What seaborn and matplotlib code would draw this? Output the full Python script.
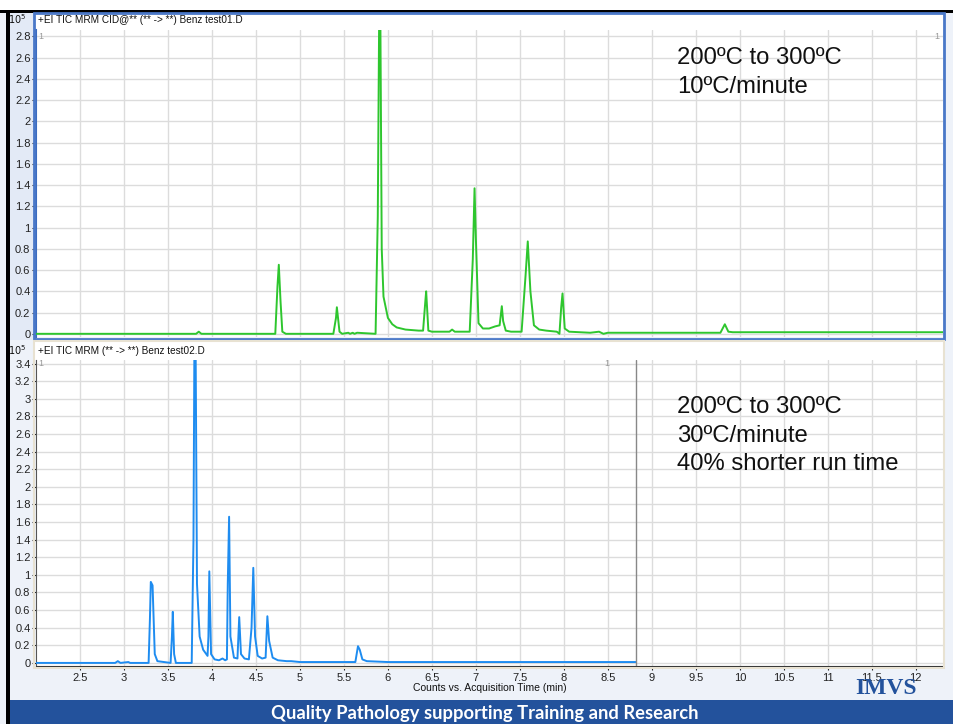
import numpy as np
import pandas as pd
import matplotlib
matplotlib.use("Agg")
import matplotlib.pyplot as plt
import seaborn as sns
from matplotlib.patches import Rectangle

# ---------------- data ----------------
# Run 1: 10 C/min (green) -- trace vertices (time min, counts x1e5)
t1 = [2.00, 3.82, 3.85, 3.88, 4.72, 4.745, 4.76, 4.78, 4.80, 4.84,
      5.38, 5.41, 5.42, 5.45, 5.48, 5.55, 5.57, 5.60, 5.62, 5.65,
      5.86, 5.885, 5.90, 5.915, 5.93, 5.95, 6.00, 6.05, 6.10, 6.20, 6.35,
      6.40, 6.425, 6.435, 6.46, 6.50, 6.70, 6.73, 6.76,
      6.93, 6.965, 6.985, 7.00, 7.03, 7.08, 7.15, 7.22, 7.27, 7.295, 7.31, 7.34, 7.40,
      7.52, 7.565, 7.59, 7.62, 7.66, 7.72, 7.80, 7.92,
      7.95, 7.97, 7.985, 8.01, 8.06, 8.30, 8.40, 8.45, 8.50,
      9.78, 9.83, 9.87, 9.92, 12.31]
y1 = [0.00, 0.00, 0.02, 0.00, 0.00, 0.45, 0.65, 0.30, 0.02, 0.00,
      0.00, 0.15, 0.25, 0.02, 0.00, 0.01, 0.00, 0.01, 0.00, 0.01,
      0.00, 1.10, 2.90, 2.90, 0.80, 0.35, 0.15, 0.09, 0.06, 0.04, 0.03,
      0.03, 0.30, 0.40, 0.03, 0.02, 0.02, 0.04, 0.02,
      0.02, 0.70, 1.37, 0.90, 0.10, 0.05, 0.05, 0.07, 0.08, 0.26, 0.12, 0.03, 0.02,
      0.02, 0.55, 0.87, 0.40, 0.08, 0.04, 0.03, 0.02,
      0.00, 0.25, 0.38, 0.05, 0.02, 0.01, 0.02, 0.00, 0.01,
      0.01, 0.09, 0.02, 0.015, 0.015]

# Run 2: 30 C/min (blue)
t2 = [2.00, 2.90, 2.93, 2.96, 3.05, 3.07, 3.28, 3.295, 3.305, 3.325, 3.35, 3.38,
      3.53, 3.545, 3.555, 3.57, 3.59,
      3.77, 3.79, 3.80, 3.815, 3.83, 3.86, 3.90, 3.95,
      3.96, 3.97, 3.99, 4.03, 4.08, 4.12, 4.15, 4.17,
      4.18, 4.195, 4.21, 4.25, 4.29, 4.31, 4.33, 4.37, 4.42,
      4.45, 4.47, 4.49, 4.52, 4.57, 4.61, 4.63, 4.65, 4.69, 4.75, 4.85, 4.90, 5.00,
      5.63, 5.66, 5.68, 5.71, 5.76, 6.00, 8.82]
y2 = [0.00, 0.00, 0.02, 0.00, 0.01, 0.00, 0.00, 0.50, 0.92, 0.88, 0.10, 0.02,
      0.00, 0.30, 0.58, 0.10, 0.00,
      0.00, 1.40, 3.50, 3.50, 0.90, 0.30, 0.15, 0.08,
      0.30, 1.04, 0.10, 0.04, 0.03, 0.05, 0.03, 0.04,
      0.90, 1.66, 0.30, 0.06, 0.05, 0.52, 0.10, 0.05, 0.04,
      0.40, 1.08, 0.30, 0.08, 0.05, 0.06, 0.53, 0.25, 0.06, 0.03, 0.02, 0.02, 0.01,
      0.01, 0.19, 0.15, 0.04, 0.02, 0.01, 0.01]
run2_end = 8.82

title1 = "+EI TIC MRM CID@** (** -> **) Benz test01.D"
title2 = "+EI TIC MRM (** -> **) Benz test02.D"
note1 = ["200ºC to 300ºC", "10ºC/minute"]
note2 = ["200ºC to 300ºC", "30ºC/minute", "40% shorter run time"]
xlabel = "Counts vs. Acquisition Time (min)"
footer = "Quality Pathology supporting Training and Research"
xticks = [2.5, 3, 3.5, 4, 4.5, 5, 5.5, 6, 6.5, 7, 7.5, 8, 8.5, 9, 9.5,
          10, 10.5, 11, 11.5, 12]
yticks1 = [0, 0.2, 0.4, 0.6, 0.8, 1, 1.2, 1.4, 1.6, 1.8, 2, 2.2, 2.4, 2.6, 2.8]
yticks2 = [0, 0.2, 0.4, 0.6, 0.8, 1, 1.2, 1.4, 1.6, 1.8, 2, 2.2, 2.4, 2.6, 2.8,
           3, 3.2, 3.4]

df1 = pd.DataFrame({"t": t1, "y": y1})
df2 = pd.DataFrame({"t": t2, "y": y2})

# ---------------- figure ----------------
sns.set_theme(style="white")
plt.rcParams["font.family"] = ["Liberation Sans", "DejaVu Sans"]

W, H = 954, 724
fig = plt.figure(figsize=(W / 100, H / 100), dpi=100, facecolor="#eef2f9")

def fx(px):
    return px / W

def fy(py):
    return 1 - py / H

def frect(x0, y0, x1, y1, **kw):
    fig.patches.append(Rectangle((fx(x0), fy(y1)), fx(x1) - fx(x0), fy(y0) - fy(y1),
                                 transform=fig.transFigure, figure=fig, **kw))

# backgrounds (behind axes)
frect(0, 0, W, 10, facecolor="white", edgecolor="none", zorder=-2)
frect(0, 10, W, 13, facecolor="black", edgecolor="none", zorder=-2)
frect(6, 10, 10, H, facecolor="black", edgecolor="none", zorder=-2)
frect(10, 13, 34, 340, facecolor="#e3eaf6", edgecolor="none", zorder=-2)
frect(34, 13, 944, 30, facecolor="white", edgecolor="none", zorder=-2)
frect(34, 341, 944, 360, facecolor="white", edgecolor="none", zorder=-2)
frect(10, 700, W, H, facecolor="#23529c", edgecolor="none", zorder=-2)
# panel frames (on top)
frect(34, 13, 944, 339, facecolor="none", edgecolor="#4a78c8", lw=2.0, zorder=5)
frect(34, 341, 944, 668, facecolor="none", edgecolor="#e8e2d2", lw=1.5, zorder=5)

ax1 = fig.add_axes([fx(36), fy(337), fx(943) - fx(36), fy(30) - fy(337)])
ax2 = fig.add_axes([fx(36), fy(666), fx(943) - fx(36), fy(360) - fy(666)])

for ax, df, col, yt, ylim in [
        (ax1, df1, "#2ec62e", yticks1, (-0.03, 2.86)),
        (ax2, df2, "#1e8cf0", yticks2, (-0.035, 3.44))]:
    ax.set_facecolor("white")
    sns.lineplot(data=df, x="t", y="y", ax=ax, color=col, lw=1.4,
                 estimator=None, sort=False, zorder=3)
    ax.set_xlim(2.0, 12.31)
    ax.set_ylim(*ylim)
    ax.set_xticks(xticks)
    ax.set_yticks(yt)
    ax.set_yticklabels([f"{v:g}" for v in yt], fontsize=8, color="#222222")
    ax.grid(True, color="#dcdcdc", lw=1.0, zorder=0)
    ax.tick_params(axis="y", direction="out", length=3, width=0.8, pad=1,
                   left=True, colors="#222222")
    ax.set_xlabel("")
    ax.set_ylabel("")
    for s in ["top", "right", "bottom"]:
        ax.spines[s].set_visible(False)
    ax.spines["left"].set_color("#555555")
    ax.spines["left"].set_linewidth(0.8)

ax1.tick_params(axis="x", bottom=False, labelbottom=False)
ax1.spines["left"].set_color("#3c6cc0")
ax1.spines["left"].set_linewidth(1.5)

ax2.axvline(run2_end, color="#888888", lw=1.0, zorder=4)
ax2.spines["bottom"].set_visible(True)
ax2.spines["bottom"].set_color("#333333")
ax2.spines["bottom"].set_linewidth(0.8)
ax2.tick_params(axis="x", direction="out", length=3, width=0.8, bottom=True,
                labelsize=8, colors="#222222", pad=2)
ax2.set_xticklabels([f"{v:g}" for v in xticks])
ax2.set_xlabel(xlabel, fontsize=7.5, color="#111111", labelpad=0)

# "1" markers
ax1.text(2.03, 2.8, "1", fontsize=6.5, color="#999999", va="center")
ax1.text(12.27, 2.8, "1", fontsize=6.5, color="#999999", va="center", ha="right")
ax2.text(2.03, 3.4, "1", fontsize=6.5, color="#999999", va="center")
ax2.text(8.46, 3.4, "1", fontsize=6.5, color="#999999", va="center")

# titles and exponents
fig.text(fx(38), fy(20), title1, fontsize=7.2, color="#111111", va="center")
fig.text(fx(38), fy(351), title2, fontsize=7.2, color="#111111", va="center")
fig.text(fx(8), fy(19), r"$10^{5}$", fontsize=7, color="#111111", va="center")
fig.text(fx(8), fy(350), r"$10^{5}$", fontsize=7, color="#111111", va="center")

# annotations
for i, s in enumerate(note1):
    fig.text(fx(677), fy(58 + 29 * i), s, fontsize=17.2, color="#111111", va="center")
for i, s in enumerate(note2):
    fig.text(fx(677), fy(407 + 28.5 * i), s, fontsize=17.2, color="#111111", va="center")

# logo + footer
fig.text(fx(886), fy(689), "IMVS", fontsize=17, color="#23529c", ha="center",
         va="center", family=["Liberation Serif"], weight="bold")
fig.text(fx(485), fy(714), footer, fontsize=13.2, color="white", ha="center",
         va="center", family=["Lato", "DejaVu Sans"], weight="bold")

fig.savefig("out.png", dpi=100, facecolor=fig.get_facecolor())
